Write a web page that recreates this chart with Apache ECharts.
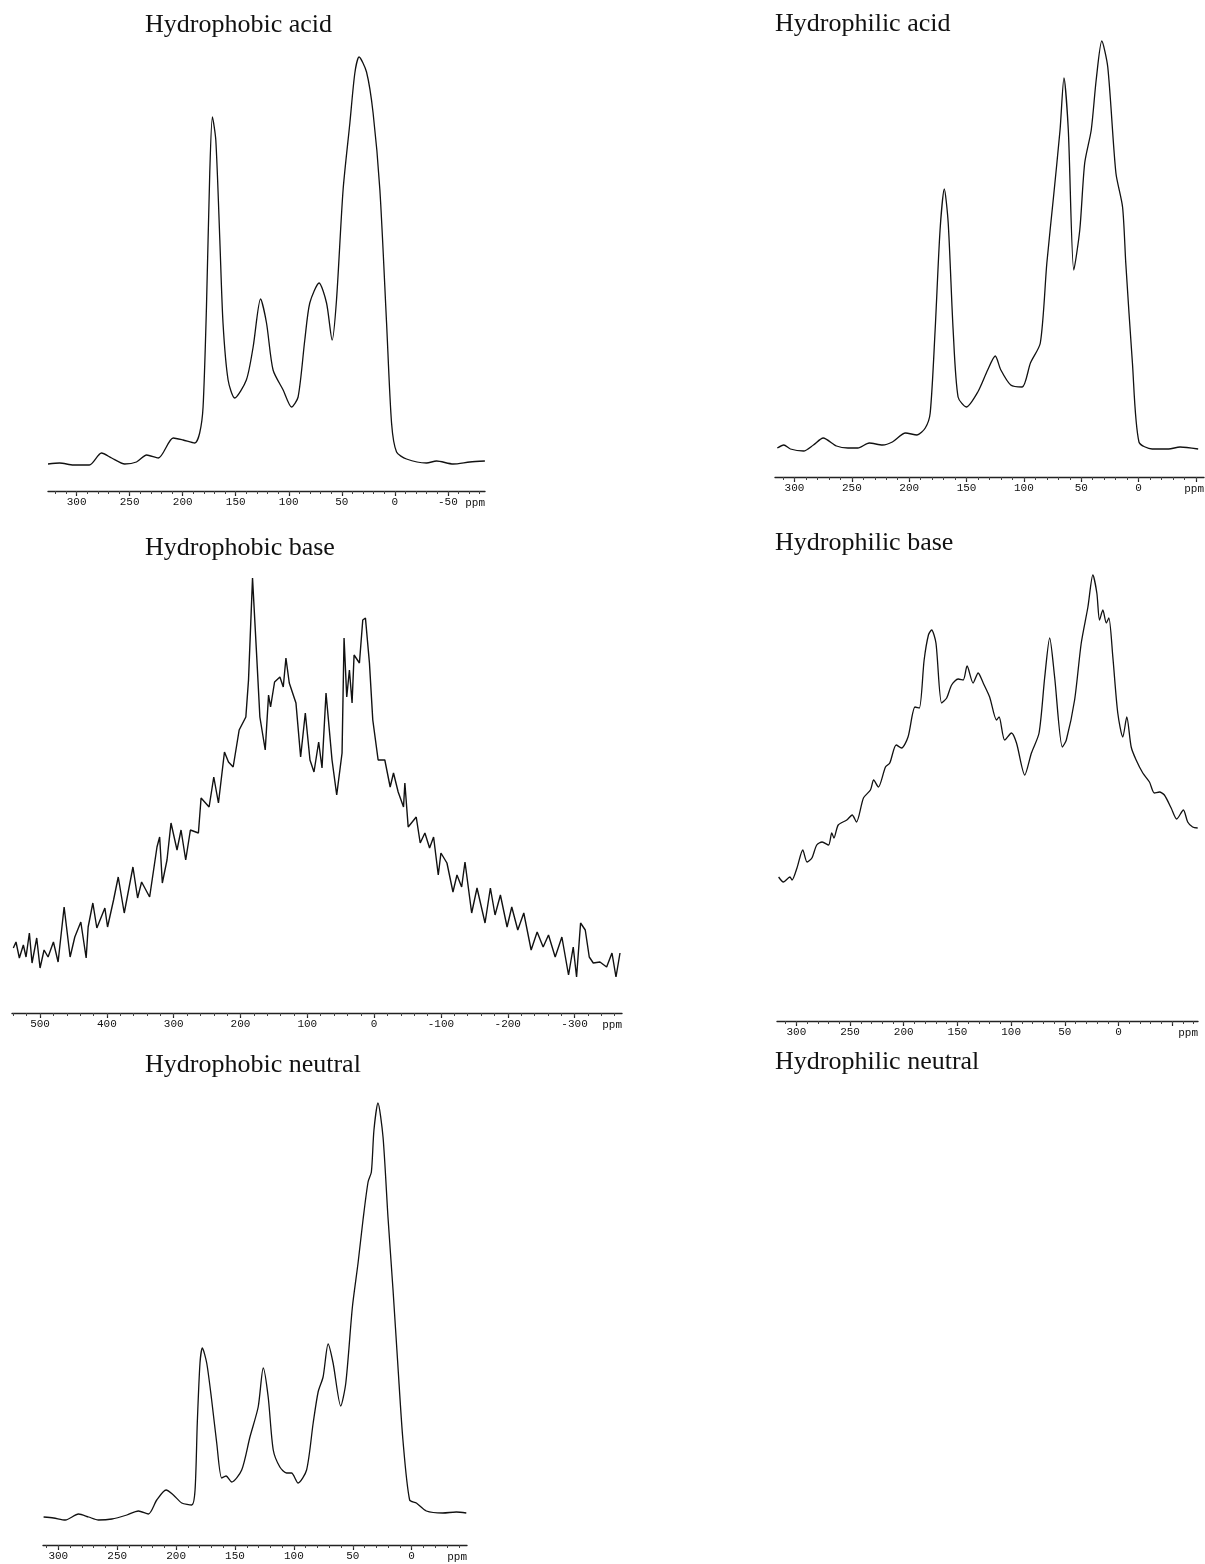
<!DOCTYPE html>
<html>
<head>
<meta charset="utf-8">
<script src="https://cdn.jsdelivr.net/npm/echarts@6/dist/echarts.min.js"></script>
<style>
html,body{margin:0;padding:0;background:#fff;}
#chart{width:1205px;height:1564px;}
</style>
</head>
<body>
<div id="chart"></div>
<script>
// ---------- data (chemical shift in ppm, relative intensity in arbitrary units) ----------
const titles = ['Hydrophobic acid','Hydrophilic acid','Hydrophobic base','Hydrophilic base','Hydrophobic neutral','Hydrophilic neutral'];

const phobAcidPpm = [327,316,303,288,276.6,267,254.6,243.6,234,223,209,199.6,188.6,184,180.8,177.6,174.5,172,168.8,165,162,157.2,151,140,133.6,126.6,121,114.8,105.3,97.4,91.2,84.9,80.2,71.4,64.4,59.1,55,48.8,42.4,37.7,33.7,26.7,20.5,14.1,7.8,3.1,-1.6,-11,-29.9,-39.3,-55,-70.7,-84.9];
const phobAcidInt = [27,28,26,26,38,33,27,29,36,33,53,51,48,58,84,184,318,374,351,251,168,111,93,111,144,192,168,121,101,84,94,151,188,208,188,151,191,301,368,418,434,419,378,301,168,68,39,32,28,30,27,29,30];

const philAcidPpm = [315,309.3,303.6,292.1,283.5,275,263.4,253.4,244.8,234.8,223.3,214.7,203.2,193.2,186,181.7,177.4,173.1,169.4,166,161.7,157.4,150.2,140.2,131.6,125,120.1,111.5,101.5,94.3,85.7,80,74.2,68.5,65.1,61.3,56.5,51.3,47,41.3,37,32.1,26.9,19.8,14,11.2,5.4,-0.3,-11.8,-26.1,-36.1,-51.9];
const philAcidInt = [29,32,28,26,32,39,31,29,29,34,32,35,44,42,49,64,147,247,288,254,147,80,70,85,107,121,107,92,90,114,134,214,280,347,399,347,207,247,314,347,397,436,410,304,270,214,114,35,28,28,30,28];

const phobBasePpm = [540,536,531,525,521,516,512,505,500,494,488,480,473,464,455,448,439,431,428,421,415,403,399,390,383,374,361,354,348,336,325,321,317,310,304,295,289,282,275,263,259,247,240,233,224,218,211,202,192,188,182,176,171,163,158,155,149,141,136,132,127,117,110,103,96,90,83,78,72,63,56,48,45,41,37,33,30,22,17,13,7,2,-6,-16,-24,-29,-36,-44,-46,-51,-63,-69,-76,-83,-89,-96,-100,-109,-118,-124,-131,-136,-146,-154,-166,-174,-181,-189,-199,-206,-215,-224,-235,-244,-253,-261,-271,-281,-291,-298,-303,-309,-316,-322,-328,-338,-348,-356,-362,-368];
const phobBaseInt = [65,71,55,68,56,80,50,75,45,63,56,71,51,106,56,76,91,55,86,110,85,105,86,113,136,100,146,115,131,116,166,176,130,153,190,163,183,153,183,180,215,206,236,210,261,251,246,283,296,333,435,360,296,263,318,306,331,336,326,355,330,310,256,300,253,241,271,245,320,253,218,260,375,316,343,310,358,350,393,395,350,293,253,253,226,240,221,206,230,186,196,170,180,165,176,138,160,150,121,138,126,151,100,125,90,125,98,118,86,106,83,100,63,81,66,78,56,76,38,66,36,90,83,56,50,51,46,60,36,60];

const philBasePpm = [316.5,312,306,304,299.4,294,290,285.5,281,276,270,267,265,261,253,248,244,237.5,231,228,223.6,217,213,207,202,196,189.5,185.5,181,177,174,170,164.7,160,155.4,149.3,144.6,141,135.4,130.7,126,120,113.6,111.2,106,99.7,95,87.3,81.1,74,68.7,64.1,59.5,52.3,48.6,40.9,34.7,28.5,23.9,20.2,17.7,14.6,11.4,9,5.3,0.7,-4,-7.7,-11.8,-16.4,-22.6,-28.8,-33.4,-38.1,-42.7,-49,-54.2,-60.4,-64.4,-69,-73.7];
const philBaseInt = [144,139,144,141,153,171,159,163,176,179,176,188,183,196,201,206,199,223,231,241,234,254,258,276,273,284,314,313,361,386,391,378,318,323,336,342,341,355,338,348,338,324,301,304,281,288,278,246,268,288,344,383,344,274,281,321,378,414,446,428,401,411,398,403,364,308,284,304,274,261,248,239,228,229,226,213,202,211,199,194,193];

const phobNeutPpm = [312.5,304,294,282.8,274.3,265.9,254.5,241.8,232,223.5,216.4,208.5,202.3,195.2,186.7,183.9,182,179.7,177.7,174,169.8,165.5,161.3,157.6,152.8,144.3,137.3,130.3,126,121.8,117.5,111.9,106.2,102,96.4,89.2,83.6,79.4,75.2,70.9,66.7,60.2,55.9,50.3,45.5,41.3,37,34.2,32,28.6,24.3,20.1,15.8,11.6,7.4,1.7,-4,-12.5,-26.5,-37.9,-46.4];
const phobNeutInt = [28,27,25,31,28,25,26,30,34,31,45,55,50,42,40,55,122,182,197,182,145,102,67,69,63,75,108,138,177,148,95,78,72,72,62,75,122,153,168,201,182,139,162,238,282,325,363,373,415,442,408,328,255,178,105,45,42,34,32,33,32];

// tick values and tick labels (ppm)
const ticksA = [300,250,200,150,100,50,0,-50];
const labelsPhobAcid = [300,250,200,150,100,50,0,-50];
const labelsPhil = [300,250,200,150,100,50,0];
const ticksBase = [500,400,300,200,100,0,-100,-200,-300];
const labelsBase = [500,400,300,200,100,0,-100,-200,-300];
const ticksNeut = [300,250,200,150,100,50,0];

// ---------- layout / style ----------
const panels = [
  {ppm: phobAcidPpm, inten: phobAcidInt, grid:{left:48, width:437, top:40, height:451}, xMin:-85, xMax:327, yMax:451, ticks:ticksA, labels:labelsPhobAcid, minorStep:10, smooth:0.25, lw:1.3},
  {ppm: philAcidPpm, inten: philAcidInt, grid:{left:775, width:434, top:30, height:447}, xMin:-57, xMax:317, yMax:447, ticks:ticksA, labels:labelsPhil, minorStep:10, smooth:0.25, lw:1.3},
  {ppm: phobBasePpm, inten: phobBaseInt, grid:{left:12, width:610, top:570, height:443}, xMin:-371, xMax:542, yMax:443, ticks:ticksBase, labels:labelsBase, minorStep:20, smooth:false, lw:1.4},
  {ppm: philBasePpm, inten: philBaseInt, grid:{left:777, width:421, top:565, height:456}, xMin:-74, xMax:318, yMax:456, ticks:ticksA, labels:labelsPhil, minorStep:10, smooth:0.25, lw:1.3},
  {ppm: phobNeutPpm, inten: phobNeutInt, grid:{left:43, width:424, top:1095, height:450}, xMin:-47, xMax:313, yMax:450, ticks:ticksNeut, labels:ticksNeut, minorStep:10, smooth:0.25, lw:1.3}
];
const titlePos = [[145,12],[775,11],[145,535],[775,530],[145,1052],[775,1049]];

function minorTicks(p){
  const out = [];
  const start = Math.floor(p.xMax / p.minorStep) * p.minorStep;
  for (let v = start; v >= p.xMin; v -= p.minorStep) out.push(v);
  return out;
}

const grid = [], xAxis = [], yAxis = [], series = [];
const ink = '#111';
const labelFont = {fontFamily:'Liberation Mono', fontSize:11, color:'#111'};
panels.forEach((p, i) => {
  grid.push(Object.assign({containLabel:false}, p.grid));
  yAxis.push({type:'value', gridIndex:i, min:0, max:p.yMax, show:false});
  xAxis.push({
    type:'value', gridIndex:i, position:'bottom', inverse:true, min:p.xMin, max:p.xMax,
    axisLine:{show:true, onZero:false, lineStyle:{color:'#222', width:1.4}},
    axisTick:{show:true, customValues:p.ticks, length:5, lineStyle:{color:'#222', width:1.2}},
    axisLabel:Object.assign({show:true, customValues:p.labels, margin:6}, labelFont),
    splitLine:{show:false},
    name:'ppm', nameLocation:'start', nameGap:0,
    nameTextStyle:Object.assign({align:'right', verticalAlign:'top', padding:[7,0,0,0]}, labelFont)
  });
  xAxis.push({
    type:'value', gridIndex:i, position:'bottom', inverse:true, min:p.xMin, max:p.xMax,
    axisLine:{show:false, onZero:false},
    axisTick:{show:true, customValues:minorTicks(p), length:3, lineStyle:{color:'#444', width:1}},
    axisLabel:{show:false}, splitLine:{show:false}
  });
  series.push({
    type:'line', xAxisIndex:2*i, yAxisIndex:i, showSymbol:false, smooth:p.smooth,
    lineStyle:{color:ink, width:p.lw}, animation:false,
    data:p.ppm.map((x, k) => [x, p.inten[k]])
  });
});

const title = titles.map((t, i) => ({
  text:t, left:titlePos[i][0], top:titlePos[i][1], padding:0,
  textStyle:{fontFamily:'Liberation Serif', fontSize:26, fontWeight:'normal', color:'#111', lineHeight:26}
}));

const chart = echarts.init(document.getElementById('chart'), null, {renderer:'canvas'});
chart.setOption({animation:false, backgroundColor:'#fff', title, grid, xAxis, yAxis, series});
</script>
</body>
</html>
